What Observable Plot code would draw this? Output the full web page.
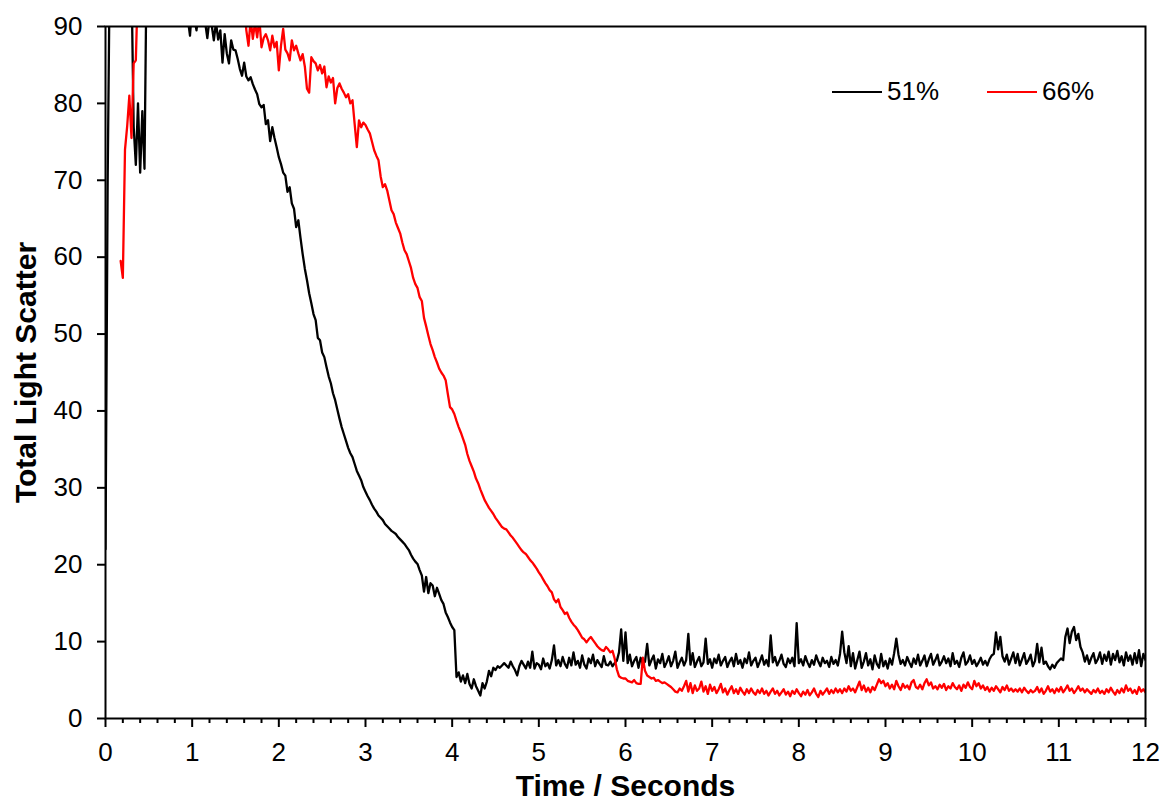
<!DOCTYPE html>
<html>
<head>
<meta charset="utf-8">
<script src="https://cdn.jsdelivr.net/npm/d3@7"></script>
<script src="https://cdn.jsdelivr.net/npm/@observablehq/plot@0.6"></script>
<style>
  html, body { margin: 0; padding: 0; background: #fff; }
  #wrap { position: relative; width: 1163px; height: 800px; font-family: "Liberation Sans", Arial, sans-serif; }
  #wrap svg { display: block; }
  g[aria-label="x-axis label"] text, g[aria-label="y-axis label"] text { font-weight: bold; font-size: 30px; }
  #legend { position: absolute; left: 832px; top: 76px; display: flex; align-items: center; font-size: 26px; color: #000; }
  #legend .item { display: flex; align-items: center; }
  #legend .sw { width: 50px; height: 0; border-top: 2.4px solid; margin-right: 5px; }
</style>
</head>
<body>
<div id="wrap"><div id="legend"></div></div>
<script>
// Sampling grid of the recorded traces (seconds)
const step = 0.025;
const blackStart = 0;
const redStart = 0.175;

const seriesNames = ["51%", "66%"];
const seriesColors = ["#000000", "#ff0000"];

// 51% trace, one row per 0.5 s
const black51 = [
22,70,99,100,98,97,99,100,98,99,97,96,96,77,72,80,71,79,71.5,99,
98,99,97,98,99,98,97,96,98,97,96,97,95,96,95,94,95,93,91,88.8,
93,91,89.5,92,91,92,90.5,88.5,91,90.2,88.2,90.5,88.3,89.5,85.3,89,86.5,85.2,88.2,87,
86.9,85.8,84.5,83.6,85.3,83.5,83,83.4,82.5,81.8,81.2,79.9,79.5,79.8,77.3,77.8,75.1,76.9,75.5,74.3,
73,72.1,71,70.6,68.5,69.1,67,66.3,63.9,64.8,62.5,60.4,58.5,57,55.3,54,52.6,51.8,49.5,49.2,
47.6,47,45.7,44.5,43.6,42.3,41.4,40.2,39,37.9,37,36.1,35.2,34.5,34,33.1,32.2,31.6,31,30.1,
29.5,28.9,28.4,27.8,27.3,26.9,26.4,26.1,25.8,25.3,25,24.7,24.4,24.2,24,23.6,23.3,23,22.7,22.3,
21.9,21.3,20.8,20.4,20.1,19.3,18.6,16.5,18.4,16.3,17.6,17.3,15.9,17,16.2,15.4,14.9,13.8,13.2,12.5,
11.9,11.5,5.4,6,4.8,5.6,4.6,5.8,4.5,3.9,5.1,4.2,3.6,3,4.6,3.9,4.8,6.2,5.5,6.6,
6.3,6.8,6.6,6.9,7.2,6.9,6.6,7.4,6.8,6.3,5.6,6.8,7.5,7,6.5,7.4,6.6,8.7,6.5,7.2,
7,6.4,7.8,6.8,7.2,6.5,7.6,9.5,6.9,7.6,6.8,8,7.1,6.6,7.9,6.9,8.6,7,7.5,6.6,
8.2,7,6.5,7.8,7.2,8.3,6.8,7.6,7.1,6.7,8.1,7,6.9,7.4,6.8,7.2,7.5,8.6,11.6,7.5,
11.2,7.2,8.3,6.8,7.5,8,6.6,7.9,7.1,7.4,9.7,6.9,7.6,8.2,6.5,7.7,7.2,8.4,6.7,7.3,
8.1,6.8,7.5,8.7,6.6,7.3,7.9,6.9,7.6,11,7,8.5,6.7,7.4,8,6.8,7.3,10.4,7.1,7.7,
6.6,7.8,7.2,8.3,6.9,7.5,8,6.7,7.4,7.9,6.8,8.4,7.1,7.6,6.6,7.8,7.2,8.6,6.9,7.5,
7.9,6.7,7.4,8.2,7,7.6,6.8,10.8,7.3,8,6.9,7.5,8.3,7.1,6.7,7.8,7.2,7.9,6.8,12.4,
7.2,7.7,6.9,8.1,7.3,6.7,7.6,7,8.2,7.4,6.8,7.9,7.2,7.5,6.7,8,7.1,7.6,6.9,8.4,
11.3,8.6,7.2,9.4,6.8,8.5,6.5,7.6,8.7,6.6,7.4,8.5,6.9,7.7,6.4,8.2,7.1,6.6,8.4,6.8,
7.5,6.5,7.8,7,8.5,10.4,8.3,7.1,7.6,6.9,8,7.3,6.7,7.8,7.1,8.3,6.9,7.5,8.2,6.8,
7.7,8.4,7,7.6,8.3,6.9,7.4,8.1,7.2,7.8,6.8,8.5,7.1,7.5,6.7,7.9,8.6,7,7.4,8.2,
7.1,7.6,6.8,7.3,7.9,7,7.5,6.9,7.7,8.2,8.4,11.2,9,10.6,8.1,7.4,8.3,7,7.8,8.6,
7.2,8.4,6.9,7.7,8.5,7.1,7.6,8.3,6.8,7.5,9.7,7.3,9.2,7.1,7.4,6.8,6.4,7,6.6,7.2,
7.5,7.8,7.6,10.6,11.7,9.8,11.3,11.9,10.2,11,9.3,8.6,7.4,8.2,7.1,7.9,8.5,7.2,7.7,8.6,
7.1,8.3,7.5,8.7,7,8.4,7.6,8.8,7.3,8.1,6.9,8.6,7.5,8.2,7,8.5,7.2,8.9,6.8,8.4,
7.6
];

// 66% trace, starts at 0.175 s
const red66 = [
59.5,57.3,74,77,81,75.5,85.2,85.6,96,98,99,98,100,
99,100,98,99,100,99,98,100,99,98,99,100,98,99,97,98,99,97,98,99,
98,97,99,98,97,96,98,97,96,97,95,96,97,95,96,94,95,96,94,95,
94,93,94,92,93,89.5,87.5,91,88.4,90.5,88.6,91,87.3,88.5,89,88.2,86.9,88.8,87.3,88,
84.3,87.5,89.7,87,86.5,85.6,88.2,86.9,87.5,86.5,85.6,86.4,84.8,81.9,81.4,86,85.5,85.2,84.3,85,
83.9,84.8,82.1,83.5,82.7,83.3,80,82,82.6,81.9,81.4,80.8,81.2,80,80.4,77.3,74.3,77.8,76.9,77.5,
77.2,76.6,76.1,75,73.9,73.2,72.6,70.5,69.1,69.5,68.7,67.4,66.1,65.6,64.5,63.8,63.1,61.9,60.9,60.4,
59.5,58.6,57.3,56.5,56,54.8,54.3,52.1,51,49.8,48.7,47.9,47,46.3,45.5,45,44.6,44,42.2,40.5,
40.2,39.6,38.7,37.9,37.2,36.4,35.6,34.4,33.5,32.8,32.1,31.2,30.6,29.8,29.1,28.4,27.9,27.4,27,26.6,
26.1,25.7,25.3,24.9,24.7,24.6,24.2,23.8,23.5,23.1,22.7,22.3,21.9,21.6,21.4,21,20.6,20.3,19.9,19.5,
19,18.6,18.1,17.6,17.2,16.7,16.4,15.5,15.1,15.5,14.5,14.1,13.6,13.8,13.1,12.6,12.2,11.9,11.5,11,
10.5,10.3,9.9,10.3,10.6,10.2,9.8,9.4,9.1,8.9,8.8,9.3,9,8.6,8.8,7.8,6.4,5.5,5.3,5.2,
5.2,4.9,4.8,4.7,5,4.6,4.5,4.5,7.9,6.2,5.6,5.4,5.2,5.3,4.9,5,4.8,4.6,4.7,4.5,
4.3,4.1,3.8,3.5,3.4,3.9,3.6,4.2,4.9,3.5,4.6,3.3,4.3,3.6,3.9,4.8,3.5,4.2,3.2,4.4,
3.6,4.1,3.3,3.8,4.5,3.4,3.9,3.1,3.7,4.2,3.3,3.8,3.2,4,3.5,3.1,3.8,3.3,3.9,3.4,
3.1,3.7,3.3,3.9,3.2,3.6,3,3.5,3.9,3.2,3.6,3,3.4,3.8,3.1,3.5,2.9,3.6,3.2,3.8,
3.3,2.9,3.5,3.1,3.7,3,3.4,3.9,3.2,2.8,3.6,3.1,3.5,3.9,3.2,3.7,3.3,3.9,3.4,3.8,
3.3,3.9,3.5,4.2,3.6,3.9,3.4,4.1,4.8,3.7,4.3,3.5,4,3.4,4.1,3.7,4.4,5.1,4.6,4.9,
4.2,4.6,3.9,4.4,3.8,4.9,4.2,3.7,4.5,4,4.3,3.8,4.7,5,4.1,3.9,4.4,3.8,4.6,5.1,
4.3,4.7,3.9,4.2,3.8,4.4,4,4.5,3.7,4.2,3.9,4.6,4.1,3.8,4.3,3.6,4.4,4,4.7,4.1,
3.8,4.9,4.2,4.6,3.9,4.3,3.7,4.1,3.5,4,3.6,4.2,3.8,3.4,4.1,3.7,4.3,3.6,3.9,3.5,
3.8,3.5,3.9,3.4,4,3.6,3.3,3.7,3.4,3.6,4.1,3.4,3.9,3.2,3.6,4.2,3.5,3.8,3.3,3.9,
3.5,4.1,3.4,3.8,4.3,3.6,3.9,3.3,3.7,4.2,3.6,3.9,3.4,3.8,3.5,3.2,3.7,3.4,3.9,3.3,
3.6,3.2,3.8,3.4,4,3.5,3.1,3.7,3.3,3.9,3.4,4.3,3.6,3.9,3.3,3.7,3.2,4.1,3.5,3.8,
3.4
];

// Axis ticks
const xMajorTicks = [0,1,2,3,4,5,6,7,8,9,10,11,12];
const xMinorTicks = d3.range(0, 60).map(i => i / 5).filter(v => Math.abs(v - Math.round(v)) > 1e-9);
const yTicks = [0,10,20,30,40,50,60,70,80,90];

const blackData = black51.map((v, i) => ({t: blackStart + i * step, v}));
const redData = red66.map((v, i) => ({t: redStart + i * step, v}));

const chart = Plot.plot({
  width: 1163,
  height: 800,
  marginLeft: 105,
  marginRight: 18,
  marginTop: 26,
  marginBottom: 82,
  style: {fontFamily: '"Liberation Sans", Arial, sans-serif', fontSize: "26px", color: "#000", background: "#fff"},
  x: {domain: [0, 12]},
  y: {domain: [0, 90]},
  marks: [
    Plot.line(blackData, {x: "t", y: "v", stroke: seriesColors[0], strokeWidth: 2.3, clip: true}),
    Plot.line(redData, {x: "t", y: "v", stroke: seriesColors[1], strokeWidth: 2.3, clip: true}),
    Plot.axisX(xMinorTicks, {tickSize: 5, tickFormat: () => "", strokeWidth: 2, label: null}),
    Plot.axisX(xMajorTicks, {tickSize: 9, tickPadding: 15, strokeWidth: 2, tickFormat: d => String(d),
      label: "Time / Seconds", labelAnchor: "center", labelArrow: "none", labelOffset: 77}),
    Plot.axisY(yTicks, {tickSize: 8, tickPadding: 15, strokeWidth: 2, tickFormat: d => String(d),
      label: "Total Light Scatter", labelAnchor: "center", labelArrow: "none", labelOffset: 91}),
    Plot.frame({stroke: "#000", strokeWidth: 2})
  ]
});

const wrap = document.getElementById("wrap");
wrap.insertBefore(chart, wrap.firstChild);

const legend = document.getElementById("legend");
seriesNames.forEach((name, i) => {
  const item = document.createElement("div");
  item.className = "item";
  if (i > 0) item.style.marginLeft = "48px";
  const sw = document.createElement("span");
  sw.className = "sw";
  sw.style.borderTopColor = seriesColors[i];
  const label = document.createElement("span");
  label.textContent = name;
  item.appendChild(sw);
  item.appendChild(label);
  legend.appendChild(item);
});
</script>
</body>
</html>
